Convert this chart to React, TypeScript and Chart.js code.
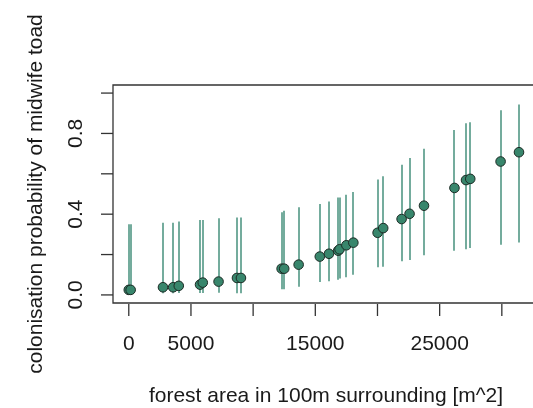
import React, { useEffect, useRef } from "react";
import { Chart, registerables } from "chart.js";

Chart.register(...registerables);

const forestArea = [0, 150, 2750, 3570, 4020, 5730, 5950, 7220, 8700, 9020, 12290, 12500, 13660, 15360, 16100, 16840, 16950, 17500, 18060, 20010, 20460, 21940, 22580, 23740, 26190, 27120, 27460, 29900, 31380];
const probability = [0.025, 0.025, 0.038, 0.038, 0.045, 0.051, 0.061, 0.066, 0.084, 0.084, 0.13, 0.13, 0.15, 0.19, 0.204, 0.219, 0.226, 0.246, 0.259, 0.308, 0.331, 0.376, 0.402, 0.442, 0.53, 0.569, 0.575, 0.661, 0.707];
const lowerBound = [0.006, 0.006, 0.008, 0.008, 0.009, 0.01, 0.01, 0.011, 0.008, 0.008, 0.028, 0.028, 0.041, 0.064, 0.068, 0.075, 0.081, 0.088, 0.1, 0.137, 0.14, 0.167, 0.173, 0.196, 0.219, 0.226, 0.232, 0.249, 0.26];
const upperBound = [0.35, 0.35, 0.358, 0.358, 0.364, 0.371, 0.371, 0.38, 0.384, 0.384, 0.41, 0.417, 0.434, 0.45, 0.463, 0.483, 0.483, 0.496, 0.51, 0.572, 0.588, 0.645, 0.678, 0.724, 0.817, 0.85, 0.855, 0.915, 0.944];
const xTicks = [0, 5000, 10000, 15000, 20000, 25000, 30000];
const xTickLabels = ["0", "5000", "", "15000", "", "25000", ""];
const yTicks = [0, 0.2, 0.4, 0.6, 0.8, 1.0];
const yTickLabels = ["0.0", "", "0.4", "", "0.8", ""];
const xTitle = "forest area in 100m surrounding [m^2]";
const yTitle = "colonisation probability of midwife toad";

const FONT = '21px "Liberation Sans", Arial, sans-serif';
const AXIS = "#333333";

const rPlot = {
  id: "rPlot",
  beforeDatasetsDraw(chart: any) {
    const { ctx, scales } = chart;
    const xs = scales.x;
    const ys = scales.y;
    ctx.save();
    ctx.strokeStyle = "rgb(116,172,157)";
    ctx.lineWidth = 2;
    for (let i = 0; i < forestArea.length; i++) {
      const px = Math.round(xs.getPixelForValue(forestArea[i]));
      ctx.beginPath();
      ctx.moveTo(px, ys.getPixelForValue(lowerBound[i]));
      ctx.lineTo(px, ys.getPixelForValue(upperBound[i]));
      ctx.stroke();
    }
    ctx.restore();
  },
  afterDraw(chart: any) {
    const { ctx, chartArea, scales } = chart;
    const xs = scales.x;
    const ys = scales.y;
    const { left, top, bottom } = chartArea;
    ctx.save();
    ctx.strokeStyle = AXIS;
    ctx.lineWidth = 1.3;
    ctx.beginPath();
    ctx.moveTo(chart.width + 10, top);
    ctx.lineTo(left, top);
    ctx.lineTo(left, bottom);
    ctx.lineTo(chart.width + 10, bottom);
    ctx.stroke();
    ctx.fillStyle = "#1a1a1a";
    ctx.font = FONT;
    ctx.textAlign = "center";
    ctx.textBaseline = "alphabetic";
    xTicks.forEach((v, i) => {
      const px = xs.getPixelForValue(v);
      ctx.beginPath();
      ctx.moveTo(px, bottom + 1);
      ctx.lineTo(px, bottom + 13);
      ctx.stroke();
      if (xTickLabels[i]) ctx.fillText(xTickLabels[i], px, 350);
    });
    yTicks.forEach((v, i) => {
      const py = ys.getPixelForValue(v);
      ctx.beginPath();
      ctx.moveTo(left, py);
      ctx.lineTo(left - 12, py);
      ctx.stroke();
      if (yTickLabels[i]) {
        ctx.save();
        ctx.translate(82, py);
        ctx.rotate(-Math.PI / 2);
        ctx.fillText(yTickLabels[i], 0, 0);
        ctx.restore();
      }
    });
    ctx.fillText(xTitle, 326, 402);
    ctx.save();
    ctx.translate(42, (top + bottom) / 2);
    ctx.rotate(-Math.PI / 2);
    ctx.fillText(yTitle, 0, 0);
    ctx.restore();
    ctx.restore();
  },
};

export default function App() {
  const ref = useRef<HTMLCanvasElement | null>(null);
  useEffect(() => {
    if (!ref.current) return;
    const chart = new Chart(ref.current, {
      type: "scatter",
      data: {
        datasets: [
          {
            data: forestArea.map((x, i) => ({ x, y: probability[i] })),
            pointRadius: 4.8,
            pointBackgroundColor: "rgb(56,134,108)",
            pointBorderColor: "#1c2a24",
            pointBorderWidth: 1,
          },
        ],
      },
      options: {
        animation: false,
        responsive: false,
        maintainAspectRatio: false,
        layout: { padding: { left: 113, top: 85, right: 0, bottom: 105 } },
        plugins: { legend: { display: false }, tooltip: { enabled: false } },
        scales: {
          x: { type: "linear", display: false, min: -1269, max: 32040 },
          y: { type: "linear", display: false, min: -0.04, max: 1.04 },
        },
      },
      plugins: [rPlot],
    });
    return () => chart.destroy();
  }, []);
  return (
    <div style={{ position: "fixed", left: 0, top: 0, width: 533, height: 408, background: "#fff" }}>
      <canvas ref={ref} width={533} height={408} style={{ width: 533, height: 408 }} />
    </div>
  );
}
